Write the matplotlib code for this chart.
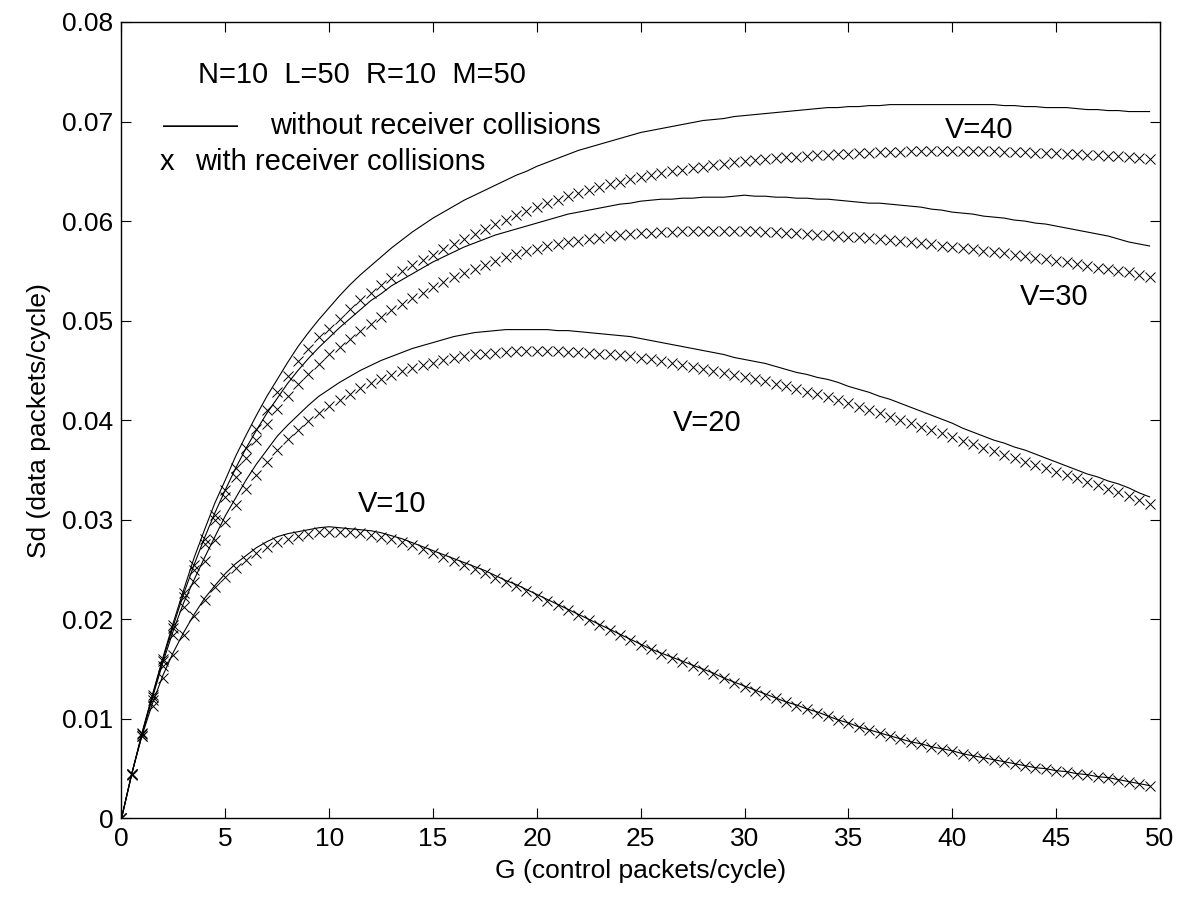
import numpy as np
import matplotlib
matplotlib.use("Agg")
import matplotlib.pyplot as plt

plt.rcParams['font.family'] = ['Liberation Sans', 'DejaVu Sans']

# G grid (control packets/cycle), step 0.5
G = np.arange(0, 50, 0.5)

# V=40 without receiver collisions
sd40_line = [
    0.0000, 0.0045, 0.0087, 0.0125, 0.0162, 0.0197, 0.0230, 0.0262, 0.0290, 0.0317,
    0.0340, 0.0364, 0.0385, 0.0405, 0.0424, 0.0441, 0.0458, 0.0474, 0.0488, 0.0501,
    0.0513, 0.0525, 0.0536, 0.0546, 0.0555, 0.0564, 0.0573, 0.0581, 0.0589, 0.0596,
    0.0603, 0.0609, 0.0615, 0.0621, 0.0626, 0.0631, 0.0636, 0.0641, 0.0646, 0.0650,
    0.0655, 0.0659, 0.0663, 0.0667, 0.0671, 0.0674, 0.0677, 0.0680, 0.0683, 0.0686,
    0.0689, 0.0691, 0.0693, 0.0695, 0.0697, 0.0699, 0.0701, 0.0702, 0.0703, 0.0705,
    0.0706, 0.0707, 0.0708, 0.0709, 0.0710, 0.0711, 0.0712, 0.0713, 0.0714, 0.0714,
    0.0715, 0.0715, 0.0716, 0.0716, 0.0717, 0.0717, 0.0717, 0.0717, 0.0717, 0.0717,
    0.0717, 0.0717, 0.0717, 0.0717, 0.0717, 0.0716, 0.0716, 0.0715, 0.0715, 0.0714,
    0.0714, 0.0714, 0.0713, 0.0712, 0.0712, 0.0711, 0.0711, 0.0710, 0.0710, 0.0710,
]
# V=40 with receiver collisions
sd40_x = [
    0.0000, 0.0045, 0.0086, 0.0124, 0.0160, 0.0194, 0.0226, 0.0255, 0.0281, 0.0305,
    0.0330, 0.0352, 0.0372, 0.0391, 0.0410, 0.0428, 0.0444, 0.0459, 0.0472, 0.0484,
    0.0492, 0.0502, 0.0512, 0.0521, 0.0528, 0.0536, 0.0543, 0.0550, 0.0556, 0.0561,
    0.0566, 0.0572, 0.0577, 0.0582, 0.0587, 0.0592, 0.0597, 0.0601, 0.0606, 0.0610,
    0.0614, 0.0618, 0.0621, 0.0625, 0.0628, 0.0631, 0.0634, 0.0637, 0.0639, 0.0642,
    0.0644, 0.0646, 0.0648, 0.0650, 0.0651, 0.0653, 0.0654, 0.0656, 0.0657, 0.0659,
    0.0660, 0.0661, 0.0662, 0.0663, 0.0664, 0.0664, 0.0665, 0.0666, 0.0666, 0.0667,
    0.0667, 0.0668, 0.0668, 0.0669, 0.0669, 0.0669, 0.0670, 0.0670, 0.0670, 0.0670,
    0.0670, 0.0670, 0.0670, 0.0670, 0.0670, 0.0669, 0.0669, 0.0669, 0.0668, 0.0668,
    0.0668, 0.0667, 0.0667, 0.0666, 0.0666, 0.0665, 0.0665, 0.0664, 0.0663, 0.0662,
]
# V=30 without receiver collisions
sd30_line = [
    0.0000, 0.0045, 0.0086, 0.0124, 0.0160, 0.0194, 0.0226, 0.0255, 0.0282, 0.0307,
    0.0330, 0.0352, 0.0372, 0.0390, 0.0407, 0.0422, 0.0437, 0.0450, 0.0462, 0.0473,
    0.0483, 0.0493, 0.0502, 0.0511, 0.0520, 0.0527, 0.0535, 0.0541, 0.0547, 0.0553,
    0.0559, 0.0564, 0.0569, 0.0574, 0.0578, 0.0582, 0.0586, 0.0589, 0.0592, 0.0595,
    0.0598, 0.0601, 0.0604, 0.0607, 0.0609, 0.0611, 0.0613, 0.0615, 0.0617, 0.0618,
    0.0620, 0.0621, 0.0622, 0.0622, 0.0623, 0.0623, 0.0624, 0.0624, 0.0624, 0.0625,
    0.0626, 0.0625, 0.0625, 0.0624, 0.0624, 0.0623, 0.0623, 0.0622, 0.0622, 0.0621,
    0.0620, 0.0619, 0.0618, 0.0618, 0.0617, 0.0616, 0.0615, 0.0614, 0.0612, 0.0611,
    0.0609, 0.0608, 0.0607, 0.0605, 0.0604, 0.0603, 0.0601, 0.0600, 0.0598, 0.0597,
    0.0595, 0.0593, 0.0591, 0.0589, 0.0587, 0.0585, 0.0582, 0.0579, 0.0577, 0.0575,
]
# V=30 with receiver collisions
sd30_x = [
    0.0000, 0.0045, 0.0085, 0.0122, 0.0158, 0.0191, 0.0222, 0.0250, 0.0276, 0.0300,
    0.0323, 0.0343, 0.0362, 0.0380, 0.0396, 0.0411, 0.0424, 0.0436, 0.0446, 0.0456,
    0.0466, 0.0474, 0.0482, 0.0490, 0.0497, 0.0504, 0.0511, 0.0517, 0.0523, 0.0528,
    0.0534, 0.0539, 0.0544, 0.0548, 0.0552, 0.0556, 0.0560, 0.0564, 0.0567, 0.0570,
    0.0572, 0.0575, 0.0577, 0.0579, 0.0580, 0.0582, 0.0583, 0.0585, 0.0586, 0.0587,
    0.0588, 0.0588, 0.0589, 0.0589, 0.0590, 0.0590, 0.0590, 0.0590, 0.0590, 0.0590,
    0.0590, 0.0590, 0.0589, 0.0589, 0.0588, 0.0588, 0.0587, 0.0586, 0.0586, 0.0585,
    0.0584, 0.0584, 0.0583, 0.0582, 0.0581, 0.0580, 0.0579, 0.0578, 0.0577, 0.0575,
    0.0574, 0.0573, 0.0572, 0.0570, 0.0569, 0.0568, 0.0566, 0.0565, 0.0563, 0.0562,
    0.0560, 0.0559, 0.0557, 0.0555, 0.0553, 0.0552, 0.0550, 0.0549, 0.0546, 0.0544,
]
# V=20 without receiver collisions
sd20_line = [
    0.0000, 0.0045, 0.0085, 0.0122, 0.0157, 0.0189, 0.0217, 0.0240, 0.0262, 0.0283,
    0.0304, 0.0322, 0.0340, 0.0356, 0.0370, 0.0384, 0.0395, 0.0405, 0.0415, 0.0424,
    0.0431, 0.0438, 0.0444, 0.0450, 0.0455, 0.0460, 0.0464, 0.0468, 0.0472, 0.0475,
    0.0478, 0.0481, 0.0484, 0.0486, 0.0488, 0.0489, 0.0490, 0.0491, 0.0491, 0.0491,
    0.0491, 0.0491, 0.0490, 0.0490, 0.0489, 0.0488, 0.0487, 0.0486, 0.0485, 0.0484,
    0.0482, 0.0480, 0.0478, 0.0476, 0.0474, 0.0472, 0.0470, 0.0468, 0.0466, 0.0463,
    0.0461, 0.0459, 0.0457, 0.0454, 0.0451, 0.0448, 0.0446, 0.0443, 0.0441, 0.0438,
    0.0434, 0.0431, 0.0428, 0.0424, 0.0421, 0.0417, 0.0413, 0.0409, 0.0405, 0.0401,
    0.0397, 0.0392, 0.0388, 0.0384, 0.0380, 0.0377, 0.0373, 0.0370, 0.0366, 0.0362,
    0.0358, 0.0354, 0.0350, 0.0346, 0.0343, 0.0339, 0.0336, 0.0332, 0.0327, 0.0323,
]
# V=20 with receiver collisions
sd20_x = [
    0.0000, 0.0044, 0.0083, 0.0119, 0.0153, 0.0184, 0.0212, 0.0237, 0.0259, 0.0280,
    0.0298, 0.0315, 0.0331, 0.0345, 0.0358, 0.0370, 0.0381, 0.0390, 0.0399, 0.0407,
    0.0414, 0.0420, 0.0426, 0.0432, 0.0437, 0.0441, 0.0445, 0.0449, 0.0452, 0.0455,
    0.0457, 0.0460, 0.0462, 0.0464, 0.0466, 0.0467, 0.0468, 0.0469, 0.0470, 0.0470,
    0.0470, 0.0470, 0.0470, 0.0469, 0.0469, 0.0468, 0.0467, 0.0466, 0.0465, 0.0464,
    0.0462, 0.0461, 0.0459, 0.0457, 0.0455, 0.0453, 0.0451, 0.0449, 0.0447, 0.0445,
    0.0443, 0.0441, 0.0439, 0.0436, 0.0434, 0.0431, 0.0428, 0.0426, 0.0423, 0.0420,
    0.0417, 0.0413, 0.0410, 0.0407, 0.0403, 0.0400, 0.0397, 0.0393, 0.0390, 0.0387,
    0.0383, 0.0379, 0.0376, 0.0372, 0.0369, 0.0365, 0.0362, 0.0358, 0.0355, 0.0352,
    0.0348, 0.0345, 0.0342, 0.0338, 0.0335, 0.0331, 0.0328, 0.0324, 0.0320, 0.0316,
]
# V=10 without receiver collisions
sd10_line = [
    0.0000, 0.0046, 0.0084, 0.0116, 0.0144, 0.0167, 0.0187, 0.0205, 0.0221, 0.0234,
    0.0246, 0.0256, 0.0264, 0.0272, 0.0278, 0.0283, 0.0286, 0.0288, 0.0290, 0.0292,
    0.0293, 0.0292, 0.0291, 0.0290, 0.0289, 0.0287, 0.0284, 0.0281, 0.0277, 0.0273,
    0.0269, 0.0265, 0.0261, 0.0257, 0.0253, 0.0249, 0.0244, 0.0239, 0.0235, 0.0230,
    0.0225, 0.0220, 0.0215, 0.0210, 0.0205, 0.0200, 0.0195, 0.0190, 0.0185, 0.0180,
    0.0175, 0.0170, 0.0166, 0.0162, 0.0158, 0.0154, 0.0150, 0.0146, 0.0141, 0.0137,
    0.0133, 0.0129, 0.0125, 0.0121, 0.0117, 0.0114, 0.0110, 0.0107, 0.0103, 0.0099,
    0.0096, 0.0092, 0.0089, 0.0086, 0.0083, 0.0080, 0.0077, 0.0075, 0.0072, 0.0070,
    0.0068, 0.0065, 0.0063, 0.0061, 0.0059, 0.0057, 0.0055, 0.0053, 0.0051, 0.0050,
    0.0048, 0.0047, 0.0045, 0.0044, 0.0042, 0.0041, 0.0039, 0.0037, 0.0035, 0.0033,
]
# V=10 with receiver collisions
sd10_x = [
    0.0000, 0.0045, 0.0083, 0.0113, 0.0141, 0.0164, 0.0184, 0.0203, 0.0219, 0.0232,
    0.0243, 0.0252, 0.0260, 0.0267, 0.0273, 0.0278, 0.0281, 0.0284, 0.0286, 0.0288,
    0.0288, 0.0288, 0.0288, 0.0287, 0.0285, 0.0283, 0.0281, 0.0278, 0.0275, 0.0271,
    0.0267, 0.0263, 0.0259, 0.0255, 0.0251, 0.0247, 0.0242, 0.0238, 0.0233, 0.0228,
    0.0223, 0.0218, 0.0214, 0.0209, 0.0204, 0.0199, 0.0194, 0.0189, 0.0184, 0.0179,
    0.0174, 0.0170, 0.0165, 0.0161, 0.0157, 0.0153, 0.0149, 0.0145, 0.0141, 0.0136,
    0.0132, 0.0128, 0.0124, 0.0121, 0.0117, 0.0113, 0.0110, 0.0106, 0.0103, 0.0099,
    0.0096, 0.0092, 0.0089, 0.0086, 0.0083, 0.0080, 0.0077, 0.0075, 0.0072, 0.0070,
    0.0068, 0.0065, 0.0063, 0.0061, 0.0059, 0.0057, 0.0055, 0.0053, 0.0051, 0.0050,
    0.0048, 0.0047, 0.0045, 0.0044, 0.0042, 0.0041, 0.0039, 0.0037, 0.0035, 0.0033,
]

lines = [sd40_line, sd30_line, sd20_line, sd10_line]
markers = [sd40_x, sd30_x, sd20_x, sd10_x]

fig = plt.figure(figsize=(11.84, 9), dpi=100)
ax = fig.add_axes([0.1026, 0.0906, 0.8771, 0.885])

for ys in lines:
    ax.plot(G, ys, color='black', lw=0.8)
for ys in markers:
    ax.plot(G, ys, linestyle='none', marker='x', color='black',
            markersize=7.5, markeredgewidth=0.7)

ax.set_xlim(0, 50)
ax.set_ylim(0, 0.08)
ax.set_xticks(np.arange(0, 51, 5))
ax.set_yticks(np.arange(0, 0.081, 0.01))
ax.set_yticklabels(['0', '0.01', '0.02', '0.03', '0.04', '0.05', '0.06', '0.07', '0.08'])
ax.tick_params(direction='in', length=7, width=0.8, labelsize=19,
               top=True, right=True, pad=6)
for sp in ax.spines.values():
    sp.set_linewidth(1.0)

ax.set_xlabel('G (control packets/cycle)', fontsize=19, labelpad=6)
ax.set_ylabel('Sd (data packets/cycle)', fontsize=19, labelpad=8)

fs = 21
ax.text(3.68, 0.0747, 'N=10  L=50  R=10  M=50', fontsize=fs, va='center')
ax.text(2.0, 0.0696, '\u2014\u2014\u2014', fontsize=fs - 3, va='center')
ax.text(7.15, 0.0696, 'without receiver collisions', fontsize=fs, va='center')
ax.text(1.85, 0.0659, 'x', fontsize=fs, va='center')
ax.text(3.54, 0.0659, 'with receiver collisions', fontsize=fs, va='center')

ax.text(39.65, 0.0691, 'V=40', fontsize=fs, va='center')
ax.text(43.26, 0.0524, 'V=30', fontsize=fs, va='center')
ax.text(26.55, 0.0397, 'V=20', fontsize=fs, va='center')
ax.text(11.39, 0.0316, 'V=10', fontsize=fs, va='center')

fig.savefig('out.png', dpi=100)
